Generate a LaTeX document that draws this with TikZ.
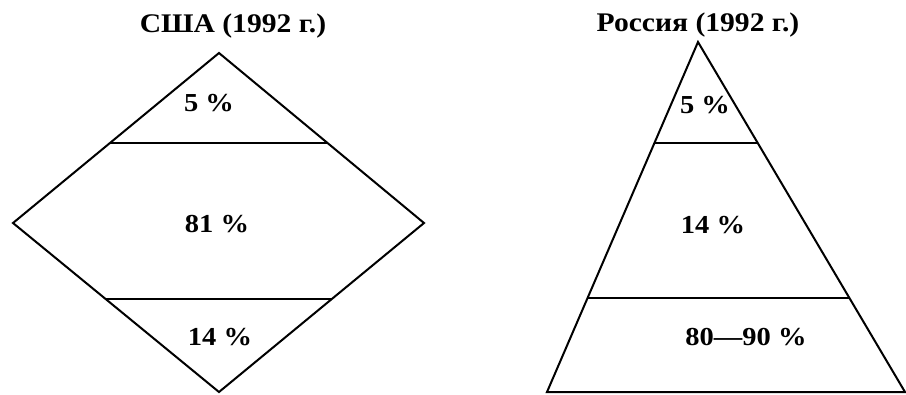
\documentclass[tikz,border=0pt]{standalone}
\usepackage{fontspec}
\setmainfont{Liberation Serif}
\newfontfamily\pyrfont[FakeStretch=1.1]{Liberation Serif}
\usetikzlibrary{calc}
\begin{document}
\begin{tikzpicture}[x=1bp, y=-1bp, line width=2bp,
        every node/.style={font=\pyrfont\bfseries\fontsize{26}{26}\selectfont, inner sep=0pt},
        title/.style={font=\pyrfont\bfseries\fontsize{27}{27}\selectfont}]
    \useasboundingbox (0,0) rectangle (906,394);
    % USA: diamond
    \coordinate (ut) at (219,53);
    \coordinate (ul) at (13,223);
    \coordinate (ur) at (424,223);
    \coordinate (ub) at (219,392);
    \coordinate (ua1) at ($(ut)!0.529!(ul)$);
    \coordinate (ua2) at ($(ut)!0.529!(ur)$);
    \coordinate (ub1) at ($(ul)!0.45!(ub)$);
    \coordinate (ub2) at ($(ur)!0.45!(ub)$);
    \draw (ut) -- (ur) -- (ub) -- (ul) -- cycle;
    \draw (ua1) -- (ua2);
    \draw (ub1) -- (ub2);
    \node[title] (usa) at (233,26) {США (1992 г.)};
    \node (u5) at (209,103) {5 \%};
    \node (u81) at (217,224) {81 \%};
    \node (u14) at (220,337) {14 \%};
    % Russia: pyramid
    \coordinate (rt) at (698,42);
    \coordinate (rl) at (547,392);
    \coordinate (rr) at (905,392);
    \coordinate (ra1) at ($(rt)!0.2886!(rl)$);
    \coordinate (ra2) at ($(rt)!0.2886!(rr)$);
    \coordinate (rb1) at ($(rt)!0.7314!(rl)$);
    \coordinate (rb2) at ($(rt)!0.7314!(rr)$);
    \draw (rt) -- (rr) -- (rl) -- cycle;
    \draw (ra1) -- (ra2);
    \draw (rb1) -- (rb2);
    \node[title] (rus) at (698,25) {Россия (1992 г.)};
    \node (r5) at (705,105) {5 \%};
    \node (r14) at (713,225) {14 \%};
    \node (r80) at (746,337) {80—90 \%};
\end{tikzpicture}
\end{document}
